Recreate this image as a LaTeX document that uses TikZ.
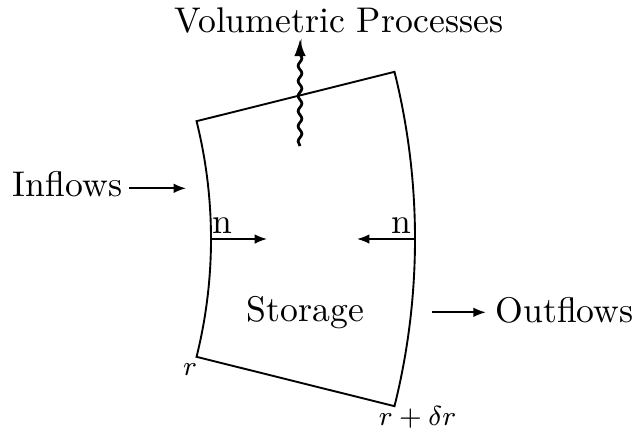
\documentclass[tikz,border=0pt]{standalone}
\usetikzlibrary{arrows.meta,decorations.pathmorphing,calc}
\begin{document}
\begin{tikzpicture}[x=0.2915pt,y=0.2915pt,
  font=\fontsize{10.4pt}{12.5pt}\selectfont,
  lbl/.style={inner sep=0pt,anchor=base},
  ar/.style={line width=0.5pt,-{Latex[length=3.6pt,width=2.8pt]}},
  wavy/.style={line width=0.8pt,-{Latex[length=5pt,width=3.4pt]},decorate,
    decoration={snake,amplitude=0.55pt,segment length=4.4pt,post length=2pt}},
  boxline/.style={line width=0.55pt,line join=miter}]
\useasboundingbox (0,0) rectangle (636,429);
% annular sector
\coordinate (O) at (-276,190);
\coordinate (TL) at ($(O)+(14:487)$);
\coordinate (BL) at ($(O)+(-14:487)$);
\coordinate (TR) at ($(O)+(14:691)$);
\coordinate (BR) at ($(O)+(-14:691)$);
\coordinate (Lmid) at ($(O)+(0:487)$);
\coordinate (Rmid) at ($(O)+(0:691)$);
\draw[boxline] (TL) arc[start angle=14,end angle=-14,radius=487] -- (BR)
  arc[start angle=-14,end angle=14,radius=691] -- cycle;
% labels
\node[lbl] (vol) at (339,396.3) {Volumetric Processes};
\node[lbl] (in) at (67.5,232.3) {Inflows};
\node[lbl] (out) at (564.5,106.3) {Outflows};
\node[lbl] (sto) at (305.5,107.3) {Storage};
\node[lbl] (nl) at (222,196) {n};
\node[lbl] (nr) at (401,196) {n};
\node[lbl,font=\footnotesize] (r1) at (190,54) {$r$};
\node[lbl,font=\footnotesize] (r2) at (417.5,4) {$r + \delta r$};
% arrows
\coordinate (inTip) at (186,240.7);
\draw[ar] ($(in.base east)+(6,8.4)$) -- (inTip);
\coordinate (outTail) at (432,116.7);
\draw[ar] (outTail) -- ($(out.base west)+(-9,10.4)$);
\coordinate (nlTip) at (267,190);
\coordinate (nrTip) at (357,190);
\draw[ar] (Lmid) -- (nlTip);
\draw[ar] (Rmid) -- (nrTip);
\coordinate (wavyStart) at (300,283);
\coordinate (wavyTip) at (300,390);
\draw[wavy] (wavyStart) -- (wavyTip);
\end{tikzpicture}
\end{document}
